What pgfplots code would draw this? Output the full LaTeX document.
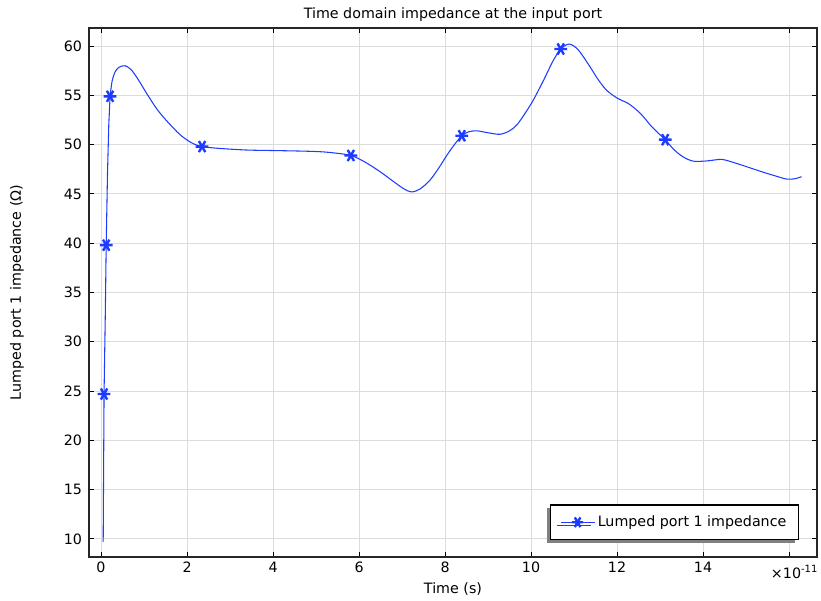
\documentclass[border=0pt]{standalone}
\usepackage{pgfplots}
\pgfplotsset{compat=1.18}
\usepackage{fontspec}
\setmainfont{DejaVu Sans}
\usetikzlibrary{shadows}
\definecolor{cblue}{RGB}{30,60,255}
\definecolor{cgrid}{RGB}{220,220,220}
\begin{document}
\fontsize{10.7}{13}\selectfont
\begin{tikzpicture}
\begin{axis}[
  name=ax,
  scale only axis,
  width=546pt, height=396.75pt,
  xmin=-0.28, xmax=16.65,
  ymin=8.17, ymax=61.83,
  xtick={0,2,4,6,8,10,12,14,16},
  xticklabels={0,2,4,6,8,10,12,14,{}},
  ytick={10,15,20,25,30,35,40,45,50,55,60},
  tick align=inside,
  major tick length=3.75pt,
  tick style={black, line width=0.75pt},
  axis line style={line width=0.9pt, black!85},
  grid=major,
  grid style={cgrid, line width=0.75pt},
  /pgf/number format/assume math mode=true,
  ticklabel style={font=\fontsize{10.7}{13}\selectfont},
  yticklabel style={xshift=-1.5pt},
  xlabel={Time (s)},
  xlabel style={at={(axis description cs:0.5,0)}, anchor=base, yshift=-27pt, inner sep=0pt},
  ylabel={Lumped port 1 impedance (Ω)},
  ylabel style={at={(axis description cs:-0.0989,0.5)}, anchor=center, inner sep=0pt},
  legend style={at={(rel axis cs:1,0)}, anchor=south east, xshift=-13.5pt, yshift=12.75pt,
    draw=black, line width=0.9pt, fill=white,
    drop shadow={shadow xshift=-2.5pt, shadow yshift=-2.5pt, fill=gray, opacity=1},
    inner xsep=7pt, inner ysep=6pt,
    font=\fontsize{10.7}{13}\selectfont},
  legend cell align=left,
]
\addplot[cblue, line width=0.8pt, forget plot] coordinates {
(0.05,9.7) (0.07,24.7) (0.1,33) (0.12,39.8) (0.15,47) (0.18,52) (0.21,54.9)
};
\addplot[cblue, line width=0.8pt, smooth, forget plot] coordinates {
(0.21,54.9)
(0.26,56.5) (0.33,57.4) (0.42,57.85) (0.56,58.0) (0.7,57.6) (0.85,56.7)
(1.06,55.2) (1.3,53.6) (1.55,52.3) (1.84,51.0) (2.1,50.2) (2.35,49.8)
(2.8,49.6) (3.4,49.45) (4.0,49.4) (4.6,49.35) (5.0,49.3) (5.33,49.2)
(5.81,48.9) (6.15,48.2) (6.49,47.25) (6.85,46.1) (7.05,45.5) (7.22,45.2)
(7.42,45.5) (7.65,46.4) (7.85,47.6) (8.04,48.9) (8.2,49.9) (8.39,50.9)
(8.55,51.3) (8.74,51.4) (9.0,51.2) (9.28,51.05) (9.5,51.4) (9.67,52.0)
(9.85,53.1) (10.05,54.5) (10.3,56.6) (10.5,58.4) (10.69,59.7) (10.89,60.2)
(11.1,59.6) (11.37,57.9) (11.56,56.6) (11.76,55.5) (12.01,54.7) (12.25,54.2)
(12.46,53.5) (12.62,52.8) (12.77,52.0) (12.95,51.2) (13.12,50.5) (13.3,49.6)
(13.47,48.95) (13.65,48.5) (13.81,48.3) (14.1,48.35) (14.43,48.5) (14.7,48.2)
(15.02,47.75) (15.4,47.2) (15.7,46.8) (15.95,46.5) (16.15,46.55) (16.29,46.75)
};
\addplot[cblue, only marks, mark=asterisk, mark size=4.8pt,
  mark options={rotate=90, line width=1.8pt},
  legend image code/.code={
    \draw[cblue, line width=0.8pt] (0pt,0pt) -- (25.5pt,0pt);
    \draw[cblue, line width=1.8pt] plot[mark=asterisk, mark size=4.2pt, mark options={rotate=90}] coordinates {(12.75pt,0pt)};
  }] coordinates {
(0.07,24.7) (0.12,39.8) (0.21,54.9) (2.35,49.8) (5.81,48.9) (8.39,50.9) (10.69,59.7) (13.12,50.5)
};
\addlegendentry{Lumped port 1 impedance}
\end{axis}
\node[anchor=base, inner sep=0pt] at ([yshift=6.75pt]ax.north) {Time domain impedance at the input port};
\node[anchor=base east, inner sep=0pt] at ([xshift=1pt, yshift=-15.75pt]ax.south east) {×10\textsuperscript{-11}};
\path (ax.south west) ++(-66.75pt,-32.25pt) coordinate (bl);
\path (ax.north east) ++(3pt,21pt) coordinate (tr);
\path (bl) rectangle (tr);
\end{tikzpicture}
\end{document}
